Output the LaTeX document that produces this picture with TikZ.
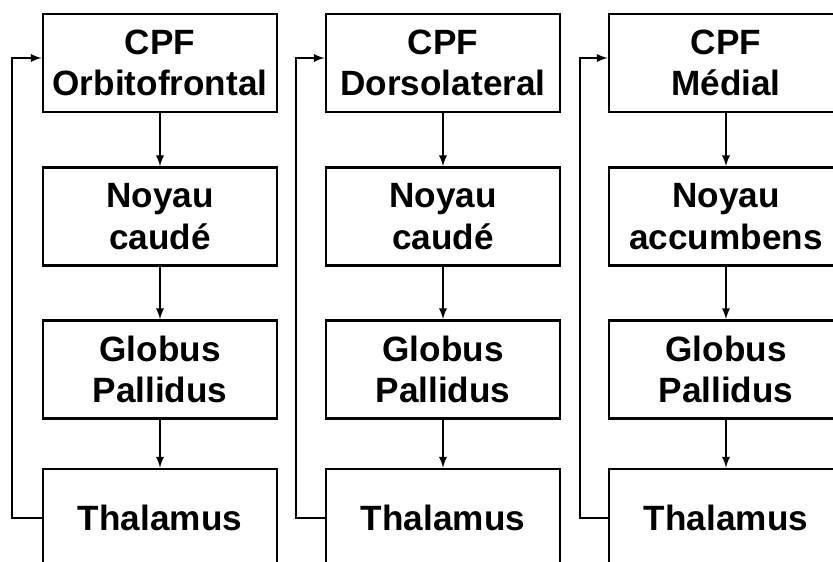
\documentclass[tikz,border=0pt]{standalone}
\usepackage{fontspec}
\setmainfont{Liberation Sans}
\begin{document}
\begin{tikzpicture}[>=latex,
    boite/.style={draw, black, line width=1.6pt, minimum width=4.68cm, minimum height=1.96cm, align=center, inner sep=0pt, font=\bfseries\fontsize{20}{23.8}\selectfont},
    fleche/.style={black, line width=1.1pt, ->}]
    \clip (0,0) rectangle (16.66,11.24);
    
    \node [boite] at (3.2, 9.98) (C1) {CPF\\Orbitofrontal};
    \node [boite] at (3.2, 6.91) (N1) {Noyau\\caudé};
    \node [boite] at (3.2, 3.85) (G1) {Globus\\Pallidus};
    \node [boite] at (3.2, 0.88) (T1) {Thalamus};
    \draw [fleche] (C1) -- (N1);
    \draw [fleche] (N1) -- (G1);
    \draw [fleche] (G1) -- (T1);
    \draw [fleche] (T1.west) -- ++(-0.6,0) |- ([yshift=1mm]C1.west);
    
    \node [boite] at (8.86, 9.98) (C2) {CPF\\Dorsolateral};
    \node [boite] at (8.86, 6.91) (N2) {Noyau\\caudé};
    \node [boite] at (8.86, 3.85) (G2) {Globus\\Pallidus};
    \node [boite] at (8.86, 0.88) (T2) {Thalamus};
    \draw [fleche] (C2) -- (N2);
    \draw [fleche] (N2) -- (G2);
    \draw [fleche] (G2) -- (T2);
    \draw [fleche] (T2.west) -- ++(-0.58,0) |- ([yshift=1mm]C2.west);
    
    \node [boite] at (14.52, 9.98) (C3) {CPF\\Médial};
    \node [boite] at (14.52, 6.91) (N3) {Noyau\\accumbens};
    \node [boite] at (14.52, 3.85) (G3) {Globus\\Pallidus};
    \node [boite] at (14.52, 0.88) (T3) {Thalamus};
    \draw [fleche] (C3) -- (N3);
    \draw [fleche] (N3) -- (G3);
    \draw [fleche] (G3) -- (T3);
    \draw [fleche] (T3.west) -- ++(-0.56,0) |- ([yshift=1mm]C3.west);
\end{tikzpicture}
\end{document}
